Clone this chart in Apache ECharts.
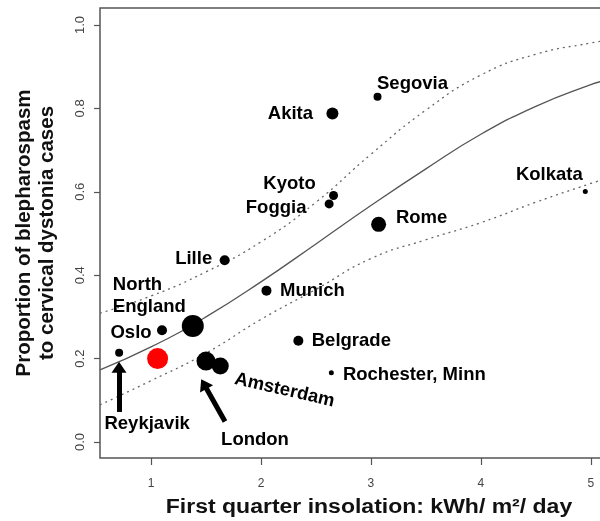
<!DOCTYPE html>
<html>
<head>
<meta charset="utf-8">
<script src="https://cdn.jsdelivr.net/npm/echarts@6/dist/echarts.min.js"></script>
<style>
  html, body { margin: 0; padding: 0; background: #fff; }
  #chart { width: 600px; height: 521px; }
</style>
</head>
<body>
<div id="chart"></div>
<script>
// points
const cities = ["Reykjavik", "", "Oslo", "North England", "London", "Amsterdam", "Lille", "Munich",
  "Belgrade", "Rochester, Minn", "Segovia", "Akita", "Kyoto", "Foggia", "Rome", "Kolkata"];
const insolation = [0.71, 1.06, 1.10, 1.38, 1.50, 1.63, 1.67, 2.05, 2.34, 2.64, 3.06, 2.65, 2.66, 2.62, 3.07, 4.95];
const proportion = [0.214, 0.200, 0.268, 0.278, 0.194, 0.182, 0.436, 0.363, 0.243, 0.166, 0.828, 0.788, 0.591, 0.571, 0.522, 0.601];
const weights = [8, 21, 10, 22, 19, 17, 10, 10, 10, 5, 8, 12, 9, 9, 15, 5];
const highlighted = [""];

// fitted curve and band
const curveX = [0.536, 1, 1.5, 2, 2.5, 3, 3.5, 4, 4.5, 5, 5.12];
const fitY = [0.173, 0.228, 0.300, 0.384, 0.475, 0.567, 0.655, 0.738, 0.805, 0.857, 0.866];
const upperY = [0.309, 0.350, 0.408, 0.480, 0.575, 0.690, 0.796, 0.880, 0.930, 0.957, 0.962];
const lowerY = [0.089, 0.147, 0.213, 0.294, 0.366, 0.440, 0.485, 0.526, 0.575, 0.620, 0.630];

const xTicks = [1, 2, 3, 4, 5];
const yTicks = [0, 0.2, 0.4, 0.6, 0.8, 1.0];

const font = "Liberation Sans, Arial, Helvetica, sans-serif";

// label placement relative to each point centre
const labelLayout = {
  "Reykjavik": { offset: [28, 71] },
  "Oslo": { offset: [-31, 3] },
  "North England": { offset: [-80, -30], align: "left", text: "North\nEngland" },
  "London": { offset: [49, 79] },
  "Amsterdam": { offset: [68, 9], rotate: -13 },
  "Lille": { offset: [-31, -1] },
  "Munich": { offset: [46, 0] },
  "Belgrade": { offset: [53, 0] },
  "Rochester, Minn": { offset: [83, 2] },
  "Segovia": { offset: [35, -13] },
  "Akita": { offset: [-42, 0] },
  "Kyoto": { offset: [-44, -12] },
  "Foggia": { offset: [-53, 4] },
  "Rome": { offset: [43, -6] },
  "Kolkata": { offset: [-36, -16] },
};

const points = cities.map((name, i) => {
  const lay = labelLayout[name];
  return {
    name: name,
    value: [insolation[i], proportion[i]],
    symbolSize: weights[i],
    itemStyle: { color: highlighted.includes(name) ? "#ff0000" : "#000", opacity: 1 },
    label: lay ? {
      show: true,
      position: "inside",
      formatter: lay.text || name,
      offset: lay.offset,
      align: lay.align || "center",
      verticalAlign: "middle",
      rotate: lay.rotate || 0,
      color: "#000",
      fontFamily: font,
      fontWeight: "bold",
      fontSize: 18.5,
      lineHeight: 22.5,
    } : { show: false },
  };
});

const lineOf = (ys) => curveX.map((x, i) => [x, ys[i]]);

const chart = echarts.init(document.getElementById("chart"), null, { renderer: "canvas" });

chart.setOption({
  backgroundColor: "#fff",
  animation: false,
  grid: {
    left: 100, top: 8, right: -4, bottom: 63,
    outerBoundsMode: "none",
    containLabel: false,
    show: true, borderColor: "#555", borderWidth: 1.5, backgroundColor: "transparent",
  },
  graphic: [
    {
      type: "text",
      x: 369, y: 507,
      scaleX: 1.15,
      style: {
        text: "First quarter insolation: kWh/ m²/ day",
        fill: "#111",
        font: "bold 20px " + font,
        align: "center",
        verticalAlign: "middle",
      },
    },
    {
      type: "text",
      x: 36, y: 233,
      rotation: Math.PI / 2,
      style: {
        text: "Proportion of blepharospasm\nto cervical dystonia cases",
        fill: "#111",
        font: "bold 20.5px " + font,
        lineHeight: 23,
        align: "center",
        verticalAlign: "middle",
      },
    },
  ],
  xAxis: {
    type: "value",
    min: 0.536, max: 5.12,
    splitLine: { show: false },
    axisLine: { show: false, onZero: false },
    axisTick: { show: true, inside: false, length: 7, customValues: xTicks, lineStyle: { color: "#555", width: 1.2 } },
    axisLabel: { customValues: xTicks, margin: 20, color: "#444", fontSize: 12, fontFamily: font },
  },
  yAxis: {
    type: "value",
    min: -0.0384, max: 1.0408,
    splitLine: { show: false },
    axisLine: { show: false, onZero: false },
    axisTick: { show: true, inside: false, length: 6, customValues: yTicks, lineStyle: { color: "#555", width: 1.2 } },
    axisLabel: {
      customValues: yTicks, rotate: 90, margin: 13, color: "#444", fontSize: 13, fontFamily: font,
      formatter: (v) => v.toFixed(1),
    },
  },
  series: [
    {
      type: "line", data: lineOf(upperY), smooth: true, symbol: "none", silent: true,
      lineStyle: { color: "#666", width: 1.3, type: [2, 4] },
    },
    {
      type: "line", data: lineOf(lowerY), smooth: true, symbol: "none", silent: true,
      lineStyle: { color: "#666", width: 1.3, type: [2, 4] },
    },
    {
      type: "line", data: lineOf(fitY), smooth: true, symbol: "none", silent: true,
      lineStyle: { color: "#555", width: 1.3 },
    },
    {
      type: "scatter",
      data: points,
      z: 5,
      markLine: {
        silent: true,
        symbol: ["none", "triangle"],
        symbolSize: [15, 11],
        label: { show: false },
        lineStyle: { color: "#000", width: 5, type: "solid", opacity: 1 },
        itemStyle: { color: "#000" },
        emphasis: { disabled: true },
        data: [
          [{ coord: [0.709, 0.072] }, { coord: [0.709, 0.179] }],
          [{ coord: [1.673, 0.049] }, { coord: [1.481, 0.139] }],
        ],
      },
    },
  ],
});
</script>
</body>
</html>
